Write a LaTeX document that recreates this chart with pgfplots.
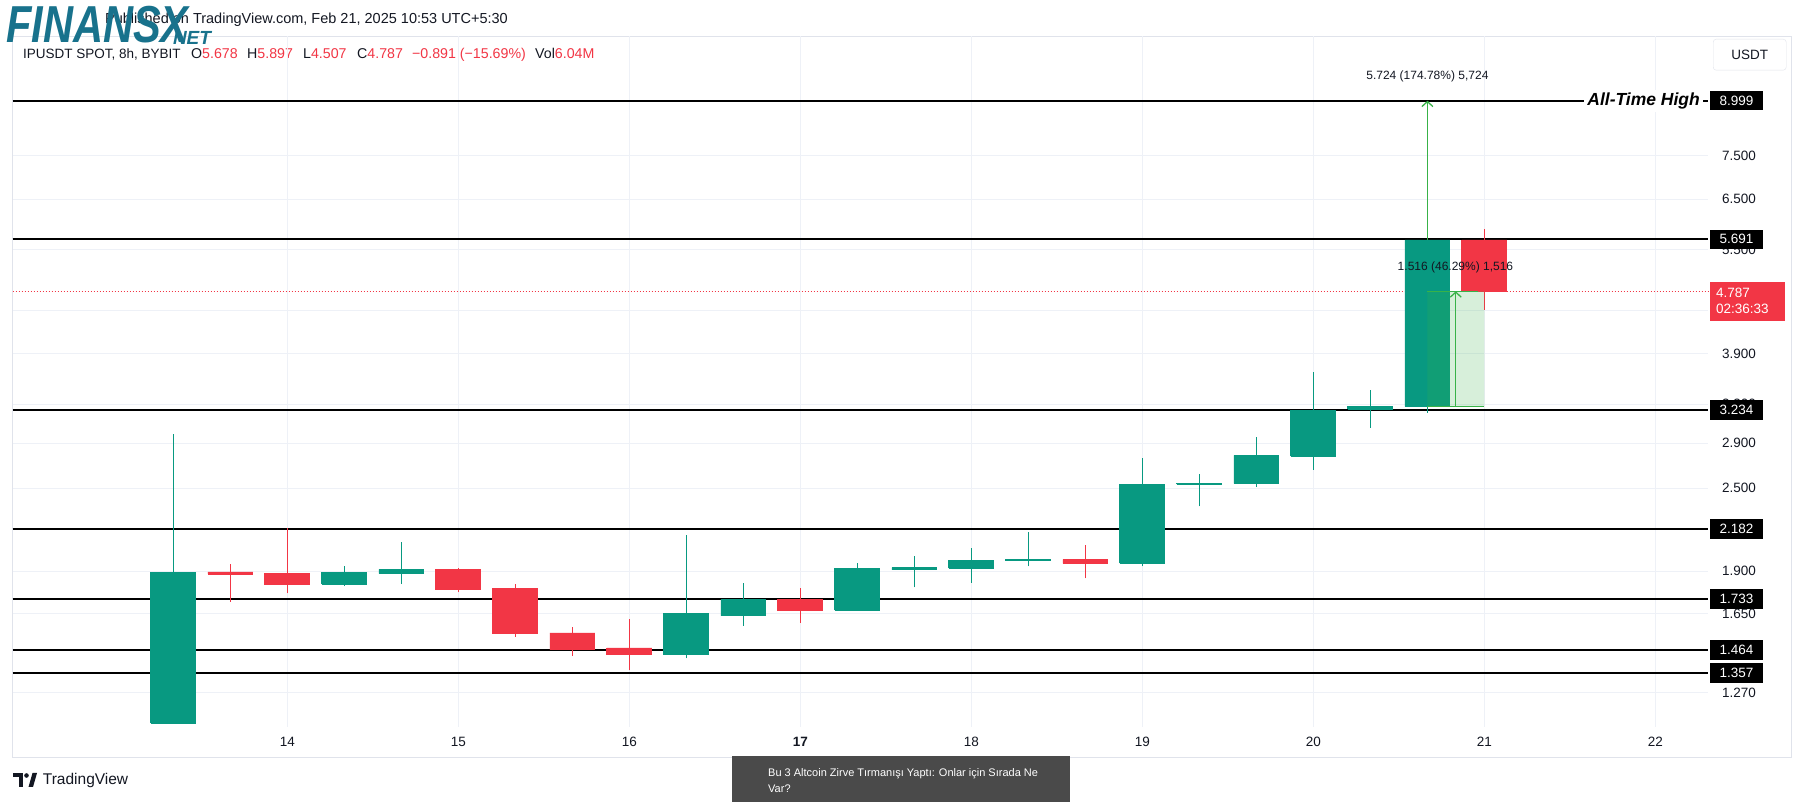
\documentclass[border=0pt]{standalone}
\usepackage{fontspec}
\setmainfont{Liberation Sans}
\usepackage{pgfplots}
\usepackage{pgfplotstable}
\pgfplotsset{compat=1.18}
\usetikzlibrary{arrows.meta}

\definecolor{tvgreen}{RGB}{8,153,129}
\definecolor{tvred}{RGB}{242,54,69}
\definecolor{gridc}{RGB}{238,241,247}
\definecolor{framec}{RGB}{224,227,235}
\definecolor{textc}{RGB}{19,23,34}
\definecolor{measg}{RGB}{56,178,72}
\definecolor{darkbox}{RGB}{74,74,74}
\definecolor{logoteal}{RGB}{24,114,140}

\newcommand\lblfont{\fontsize{13.5}{16}\selectfont}
\newcommand\hdrfont{\fontsize{14.2}{16}\selectfont}
\newcommand\smfont{\fontsize{12}{14}\selectfont}

% time in days (8h candles), open, high, low, close
\pgfplotstableread{
x      o     h     l     c
13.333 1.149 2.986 1.149 1.890
13.667 1.894 1.947 1.716 1.882
14.000 1.886 2.191 1.764 1.819
14.333 1.819 1.932 1.807 1.890
14.667 1.886 2.088 1.819 1.911
15.000 1.911 1.919 1.771 1.789
15.333 1.795 1.819 1.528 1.544
15.667 1.548 1.581 1.435 1.464
16.000 1.473 1.621 1.368 1.441
16.333 1.441 2.137 1.423 1.650
16.667 1.640 1.824 1.585 1.732
17.000 1.732 1.794 1.599 1.668
17.333 1.668 1.949 1.668 1.915
17.667 1.909 1.995 1.800 1.921
18.000 1.917 2.049 1.828 1.967
18.333 1.967 2.165 1.930 1.973
18.667 1.973 2.074 1.855 1.949
19.000 1.949 2.758 1.930 2.530
19.333 2.530 2.616 2.352 2.539
19.667 2.539 2.960 2.508 2.786
20.000 2.777 3.672 2.656 3.227
20.333 3.245 3.456 3.050 3.277
20.667 3.275 8.999 3.204 5.678
21.000 5.678 5.897 4.507 4.787
}\candles

\begin{document}
\begin{tikzpicture}
\begin{scope}[x=1pt,y=1pt]
\path[use as bounding box] (0,0) rectangle (1804,803);
\fill[white] (0,0) rectangle (1804,803);
\draw[framec, line width=1pt] (12.7,766) rectangle (1791,45);

% published line and logo
\node[anchor=base east, font=\fontsize{14.5}{16}\selectfont, text=textc, inner sep=0pt] at (508,779) {Published on TradingView.com, Feb 21, 2025 10:53 UTC+5:30};
\node[anchor=west, inner sep=0pt, text=logoteal, font=\fontsize{52}{52}\selectfont\bfseries\itshape, xscale=0.8] at (6,778) {FINANSX};
\node[anchor=center, inner sep=0pt, text=logoteal, font=\fontsize{19}{19}\selectfont\bfseries\itshape] at (192,765) {NET};

% header legend
\node[anchor=base west, inner sep=0pt, font=\lblfont, text=textc] at (23,744) {IPUSDT SPOT, 8h, BYBIT};
\node[anchor=base west, inner sep=0pt, font=\hdrfont] at (191,744) {\textcolor{textc}{O}\textcolor{tvred}{5.678}};
\node[anchor=base west, inner sep=0pt, font=\hdrfont] at (247,744) {\textcolor{textc}{H}\textcolor{tvred}{5.897}};
\node[anchor=base west, inner sep=0pt, font=\hdrfont] at (303,744) {\textcolor{textc}{L}\textcolor{tvred}{4.507}};
\node[anchor=base west, inner sep=0pt, font=\hdrfont] at (357,744) {\textcolor{textc}{C}\textcolor{tvred}{4.787}};
\node[anchor=base west, inner sep=0pt, font=\hdrfont, text=tvred] at (412,744) {−0.891 (−15.69\%)};
\node[anchor=base west, inner sep=0pt, font=\hdrfont] at (535,744) {\textcolor{textc}{Vol}\textcolor{tvred}{6.04M}};

% USDT box
\node[draw=framec, rounded corners=3pt, minimum width=73pt, minimum height=31pt, font=\lblfont, text=textc] at (1749.7,748.3) {USDT};
\end{scope}

\begin{axis}[
  at={(12.7pt,76pt)}, anchor=south west,
  scale only axis, width=1695.3pt, height=691pt,
  xmin=12.394, xmax=22.308, ymin=1.1343, ymax=11.146,
  ymode=log,
  axis line style={draw=none},
  major tick length=0pt, tick style={draw=none},
  xtick={14,15,16,17,18,19,20,21,22},
  xticklabels={14,15,16,\textbf{17},18,19,20,21,22},
  ytick={1.27,1.65,1.9,2.5,2.9,3.3,3.9,4.5,5.5,6.5,7.5},
  yticklabels={1.270,1.650,1.900,2.500,2.900,3.300,3.900,{},5.500,6.500,7.500},
  grid=major, major grid style={draw=gridc, line width=1pt},
  yticklabel pos=right,
  yticklabel style={anchor=west, inner sep=0pt, xshift=14pt, font=\lblfont, text=textc},
  xticklabel style={anchor=center, inner sep=0pt, yshift=-15pt, font=\lblfont, text=textc},
  clip=false,
]
% horizontal levels
\addplot[black, line width=1.8pt, forget plot] coordinates {(12.394,8.999) (22.308,8.999)};
\addplot[black, line width=1.8pt, forget plot] coordinates {(12.394,5.691) (22.308,5.691)};
\addplot[black, line width=1.8pt, forget plot] coordinates {(12.394,3.234) (22.308,3.234)};
\addplot[black, line width=1.8pt, forget plot] coordinates {(12.394,2.182) (22.308,2.182)};
\addplot[black, line width=1.8pt, forget plot] coordinates {(12.394,1.733) (22.308,1.733)};
\addplot[black, line width=1.8pt, forget plot] coordinates {(12.394,1.464) (22.308,1.464)};
\addplot[black, line width=1.8pt, forget plot] coordinates {(12.394,1.357) (22.308,1.357)};
% current price line
\addplot[tvred, line width=0.8pt, dash pattern=on 1pt off 2pt, forget plot] coordinates {(12.394,4.787) (22.308,4.787)};

% candles
\pgfplotstablegetrowsof{\candles}
\pgfmathtruncatemacro{\lastrow}{\pgfplotsretval-1}
\pgfplotsforeachungrouped \i in {0,...,\lastrow}{%
  \pgfplotstablegetelem{\i}{x}\of\candles \let\cx\pgfplotsretval
  \pgfplotstablegetelem{\i}{o}\of\candles \let\co\pgfplotsretval
  \pgfplotstablegetelem{\i}{h}\of\candles \let\ch\pgfplotsretval
  \pgfplotstablegetelem{\i}{l}\of\candles \let\cl\pgfplotsretval
  \pgfplotstablegetelem{\i}{c}\of\candles \let\cc\pgfplotsretval
  \pgfmathsetmacro{\xa}{\cx-0.1315}%
  \pgfmathsetmacro{\xb}{\cx+0.1315}%
  \pgfmathtruncatemacro{\up}{\cc>=\co ? 1 : 0}%
  \ifnum\up=1 \def\ccol{tvgreen}\else\def\ccol{tvred}\fi
  \edef\temp{%
    \noexpand\addplot[draw=\ccol, line width=1.3pt, forget plot] coordinates {(\cx,\cl) (\cx,\ch)};
    \noexpand\addplot[fill=\ccol, draw=\ccol, line width=0.8pt, forget plot] coordinates {(\xa,\co) (\xb,\co) (\xb,\cc) (\xa,\cc) (\xa,\co)};
  }\temp
}

% measurement tools
\addplot[measg, line width=1.3pt, -{Straight Barb[length=5pt,width=11pt]}, forget plot] coordinates {(20.667,5.678) (20.667,8.999)};
\addplot[fill=measg, fill opacity=0.2, draw=none, forget plot] coordinates {(20.667,3.275) (21.0,3.275) (21.0,4.791) (20.667,4.791) (20.667,3.275)};
\addplot[measg, line width=1.2pt, forget plot] coordinates {(20.667,3.275) (21.0,3.275)};
\addplot[measg, line width=1.2pt, forget plot] coordinates {(20.667,4.791) (20.96,4.791)};
\addplot[measg, line width=1.3pt, -{Straight Barb[length=5pt,width=11pt]}, forget plot] coordinates {(20.833,3.275) (20.833,4.791)};
\node[font=\smfont, text=textc] at (axis cs:20.667,9.743) {5.724 (174.78\%) 5,724};
\node[font=\smfont, text=textc] at (axis cs:20.831,5.19) {1.516 (46.29\%) 1,516};

% all-time high label
\node[anchor=east, fill=white, inner sep=3pt, font=\fontsize{17.5}{18}\selectfont\bfseries\itshape, text=black] at (axis cs:22.279,8.999) {All-Time High};

% price scale labels
\node[fill=black, text=white, font=\lblfont, minimum width=53pt, minimum height=19.5pt, inner sep=0pt] at (axis cs:22.475,8.999) {8.999};
\node[fill=black, text=white, font=\lblfont, minimum width=53pt, minimum height=19.5pt, inner sep=0pt] at (axis cs:22.475,5.691) {5.691};
\node[fill=black, text=white, font=\lblfont, minimum width=53pt, minimum height=19.5pt, inner sep=0pt] at (axis cs:22.475,3.234) {3.234};
\node[fill=black, text=white, font=\lblfont, minimum width=53pt, minimum height=19.5pt, inner sep=0pt] at (axis cs:22.475,2.182) {2.182};
\node[fill=black, text=white, font=\lblfont, minimum width=53pt, minimum height=19.5pt, inner sep=0pt] at (axis cs:22.475,1.733) {1.733};
\node[fill=black, text=white, font=\lblfont, minimum width=53pt, minimum height=19.5pt, inner sep=0pt] at (axis cs:22.475,1.464) {1.464};
\node[fill=black, text=white, font=\lblfont, minimum width=53pt, minimum height=19.5pt, inner sep=0pt] at (axis cs:22.475,1.357) {1.357};
\node[fill=tvred, text=white, font=\lblfont, minimum width=75pt, minimum height=39pt, inner sep=0pt, align=left, text width=63pt] at (axis cs:22.539,4.637) {4.787\\02:36:33};
\end{axis}

\begin{scope}[x=1pt,y=1pt]
% bottom TradingView logo
\fill[textc] (13,26) rectangle (23,30);
\fill[textc] (18.5,16) rectangle (23,30);
\fill[textc] (26.5,27.5) circle (2.3);
\fill[textc] (28.5,16) -- (33,16) -- (37,30) -- (32.5,30) -- cycle;
\node[anchor=west, inner sep=0pt, font=\fontsize{15.5}{17}\selectfont, text=textc] at (42.7,22.5) {TradingView};

% bottom dark box
\fill[darkbox] (732,47) rectangle (1070,1);
\node[anchor=base west, inner sep=0pt, font=\fontsize{11}{13}\selectfont, text=white] at (768,27) {Bu 3 Altcoin Zirve Tırmanışı Yaptı: Onlar için Sırada Ne};
\node[anchor=base west, inner sep=0pt, font=\fontsize{11}{13}\selectfont, text=white] at (768,11) {Var?};
\end{scope}
\end{tikzpicture}
\end{document}
